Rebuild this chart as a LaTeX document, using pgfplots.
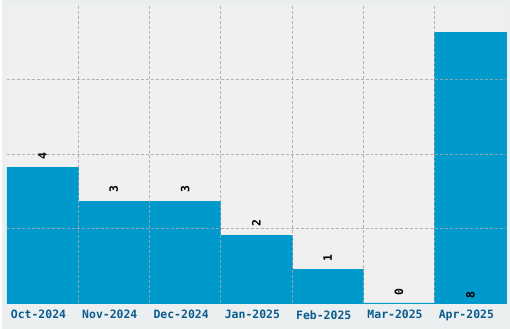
\documentclass[border=0pt]{standalone}
\usepackage{pgfplots}
\pgfplotsset{compat=1.18}
\usepackage{fontspec}
\setmonofont{DejaVu Sans Mono}
\definecolor{bar}{HTML}{0099CC}
\definecolor{plotbg}{HTML}{F0F0F0}
\definecolor{outer}{HTML}{ECEFF0}
\definecolor{ticklab}{HTML}{0A5C8E}
\definecolor{gridc}{HTML}{A8A8A8}
\begin{document}
\begin{tikzpicture}
\fill[outer] (-5bp,-26bp) rectangle (505bp,304bp);
\begin{axis}[
  scale only axis,
  width=501bp, height=299bp,
  xmin=-0.5, xmax=6.5, ymin=0, ymax=8.8,
  axis background/.style={fill=plotbg},
  axis line style={draw=none},
  xtick={0,...,6},
  xticklabels={Oct-2024,Nov-2024,Dec-2024,Jan-2025,Feb-2025,Mar-2025,Apr-2025},
  extra x ticks={0.5,1.5,2.5,3.5,4.5,5.5},
  extra x tick labels={},
  extra x tick style={grid=major, major grid style={gridc, dash pattern=on 3bp off 2bp, line width=0.8bp, opacity=0.85}},
  ytick={2.2,4.4,6.6},
  yticklabels={},
  ymajorgrids,
  major grid style={gridc, dash pattern=on 3bp off 2bp, line width=0.8bp, opacity=0.85},
  major tick length=0pt,
  tick style={draw=none},
  xticklabel style={font=\ttfamily\bfseries\fontsize{11.5bp}{12bp}\selectfont, text=ticklab, yshift=-4bp, xshift=-4bp},
  axis on top,
  clip=false,
]
\addplot[ybar, bar width=1, fill=bar, draw=bar, line width=0.6bp, bar shift=0pt] coordinates {
  (0,4) (1,3) (2,3) (3,2) (4,1) (5,0) (6,8)
};
\addplot[draw=none, mark=none, nodes near coords, point meta=explicit symbolic,
  nodes near coords style={rotate=90, anchor=center, font=\ttfamily\bfseries\fontsize{11.5bp}{12bp}\selectfont, text=black, inner sep=0pt}]
  coordinates {
  (0,4.35)[4] (1,3.35)[3] (2,3.35)[3] (3,2.35)[2] (4,1.33)[1] (5,0.32)[0] (6,0.24)[8]
};
\end{axis}
\end{tikzpicture}
\end{document}
